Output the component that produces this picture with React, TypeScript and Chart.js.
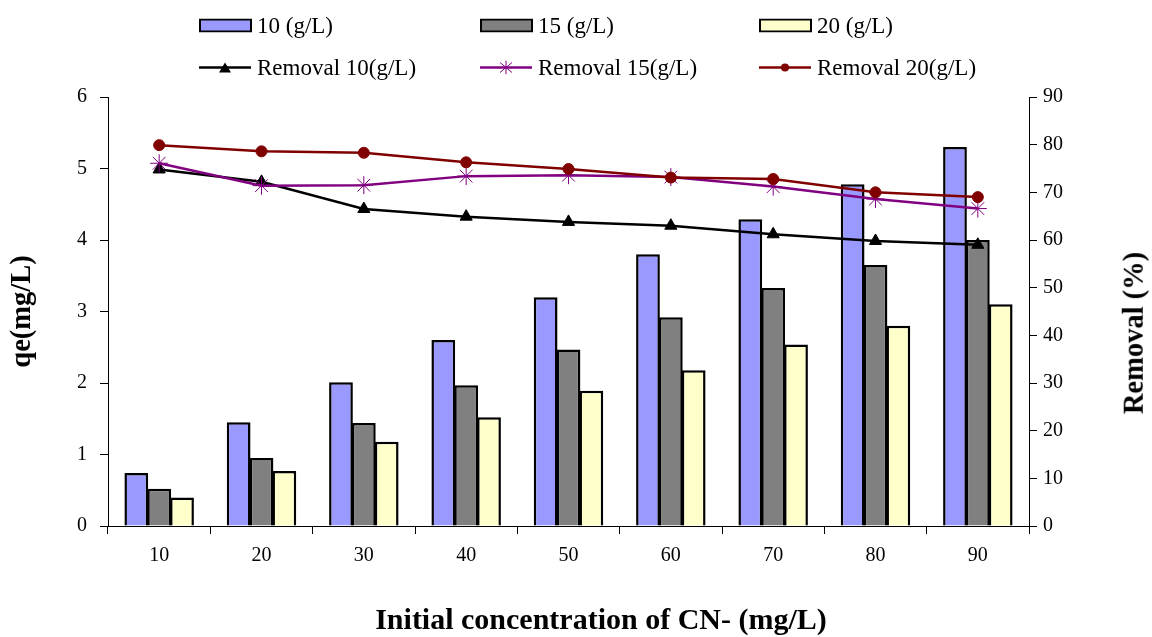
import React, { useEffect, useRef } from "react";
import { Chart, registerables } from "chart.js";

Chart.register(...registerables);

const categories = ["10", "20", "30", "40", "50", "60", "70", "80", "90"];
const qe10 = [0.74, 1.45, 2.01, 2.6, 3.2, 3.8, 4.29, 4.78, 5.3];
const qe15 = [0.52, 0.95, 1.44, 1.97, 2.47, 2.92, 3.33, 3.65, 4.0];
const qe20 = [0.4, 0.77, 1.18, 1.52, 1.89, 2.18, 2.54, 2.8, 3.1];
const removal10 = [74.8, 72.2, 66.5, 64.9, 63.8, 63.0, 61.2, 59.8, 59.0];
const removal15 = [76.1, 71.4, 71.5, 73.4, 73.6, 73.2, 71.2, 68.6, 66.6];
const removal20 = [79.9, 78.6, 78.3, 76.3, 74.9, 73.1, 72.8, 70.0, 69.0];
const leftTicks = [0, 6];
const rightTicks = [0, 90];

const FONT = "'Liberation Serif', 'Times New Roman', serif";

const BLUE = "#9999FF";
const GRAY = "#808080";
const YELLOW = "#FFFFCC";
const C_R10 = "#000000";
const C_R15 = "#800080";
const C_R20 = "#800000";

function Swatch({ fill }: { fill: string }) {
  return (
    <svg width={53} height={14} style={{ display: "block" }}>
      <rect x={1} y={1} width={51} height={12} fill={fill} stroke="#000" strokeWidth={2} />
    </svg>
  );
}

function LineMarker({ color, kind }: { color: string; kind: string }) {
  let marker: React.ReactNode = null;
  if (kind === "triangle") {
    marker = <polygon points="26,2 32,12 20,12" fill={color} />;
  } else if (kind === "star") {
    marker = (
      <g stroke={color} strokeWidth={1}>
        <line x1={26} y1={0} x2={26} y2={14} />
        <line x1={20} y1={2} x2={32} y2={12} />
        <line x1={32} y1={2} x2={20} y2={12} />
      </g>
    );
  } else {
    marker = <circle cx={26} cy={7} r={4} fill={color} />;
  }
  return (
    <svg width={53} height={14} style={{ display: "block" }}>
      <line x1={0} y1={7} x2={52} y2={7} stroke={color} strokeWidth={2.5} />
      {marker}
    </svg>
  );
}

const legendItems = [
  { label: "10 (g/L)", x: 199, y: 25, type: "bar", color: BLUE },
  { label: "15 (g/L)", x: 480, y: 25, type: "bar", color: GRAY },
  { label: "20 (g/L)", x: 759, y: 25, type: "bar", color: YELLOW },
  { label: "Removal 10(g/L)", x: 199, y: 67, type: "triangle", color: C_R10 },
  { label: "Removal 15(g/L)", x: 480, y: 67, type: "star", color: C_R15 },
  { label: "Removal 20(g/L)", x: 759, y: 67, type: "circle", color: C_R20 },
];

export default function App() {
  const ref = useRef<HTMLCanvasElement | null>(null);

  useEffect(() => {
    if (!ref.current) return;
    const tickFont = { family: FONT, size: 20 };
    const barCommon = {
      yAxisID: "y",
      borderColor: "#000",
      borderWidth: 2.5,
      categoryPercentage: 0.67,
      barPercentage: 1.04,
      order: 5,
    };
    const chart = new Chart(ref.current, {
      type: "bar",
      data: {
        labels: categories,
        datasets: [
          {
            type: "line",
            label: "Removal 20(g/L)",
            data: removal20,
            yAxisID: "y1",
            borderColor: C_R20,
            backgroundColor: C_R20,
            borderWidth: 2.5,
            pointStyle: "circle",
            pointRadius: 5.5,
            pointBorderWidth: 1,
            order: 0,
          },
          {
            type: "line",
            label: "Removal 15(g/L)",
            data: removal15,
            yAxisID: "y1",
            borderColor: C_R15,
            backgroundColor: C_R15,
            borderWidth: 2.5,
            pointStyle: "star",
            pointRadius: 9,
            pointBorderWidth: 1,
            order: 1,
          },
          {
            type: "line",
            label: "Removal 10(g/L)",
            data: removal10,
            yAxisID: "y1",
            borderColor: C_R10,
            backgroundColor: C_R10,
            borderWidth: 2.5,
            pointStyle: "triangle",
            pointRadius: 7,
            pointBorderWidth: 1,
            order: 2,
          },
          { ...barCommon, label: "10 (g/L)", data: qe10, backgroundColor: BLUE },
          { ...barCommon, label: "15 (g/L)", data: qe15, backgroundColor: GRAY },
          { ...barCommon, label: "20 (g/L)", data: qe20, backgroundColor: YELLOW },
        ] as any,
      },
      options: {
        responsive: false,
        maintainAspectRatio: false,
        animation: false,
        devicePixelRatio: 1,
        layout: { padding: { top: 97, left: 0, right: 0, bottom: 0 } },
        plugins: {
          legend: { display: false },
          tooltip: { enabled: false },
          title: { display: false },
        },
        scales: {
          x: {
            type: "category",
            offset: true,
            grid: {
              offset: true,
              drawOnChartArea: false,
              drawTicks: true,
              tickLength: 8,
              color: "#000",
              tickColor: "#000",
            },
            border: { display: true, color: "#000", width: 1 },
            ticks: { font: tickFont, color: "#000", padding: 10 },
            afterFit: (s: any) => {
              s.height = 111;
            },
          },
          y: {
            position: "left",
            min: leftTicks[0],
            max: leftTicks[1],
            ticks: { stepSize: 1, font: tickFont, color: "#000", padding: 13 },
            grid: {
              drawOnChartArea: false,
              tickLength: 8,
              color: "#000",
              tickColor: "#000",
            },
            border: { display: true, color: "#000", width: 1 },
            title: {
              display: true,
              text: "qe(mg/L)",
              color: "#000",
              font: { family: FONT, size: 28.5, weight: "bold" },
              padding: { top: 6, bottom: 0 },
            },
            afterFit: (s: any) => {
              s.width = 108;
            },
          },
          y1: {
            position: "right",
            min: rightTicks[0],
            max: rightTicks[1],
            ticks: { stepSize: 10, font: tickFont, color: "#000", padding: 6 },
            grid: {
              drawOnChartArea: false,
              tickLength: 8,
              color: "#000",
              tickColor: "#000",
            },
            border: { display: true, color: "#000", width: 1 },
            afterFit: (s: any) => {
              s.width = 123;
            },
          },
        },
      } as any,
    });
    return () => chart.destroy();
  }, []);

  return (
    <div
      style={{
        position: "absolute",
        left: 0,
        top: 0,
        width: 1152,
        height: 637,
        background: "#fff",
        fontFamily: FONT,
        color: "#000",
      }}
    >
      <canvas
        ref={ref}
        width={1152}
        height={637}
        style={{ position: "absolute", left: 0, top: 0, width: 1152, height: 637 }}
      />
      {legendItems.map((it) => (
        <div
          key={it.label}
          style={{
            position: "absolute",
            left: it.x,
            top: it.y,
            transform: "translateY(-50%)",
            display: "flex",
            alignItems: "center",
            whiteSpace: "nowrap",
            fontSize: 23,
            lineHeight: 1,
          }}
        >
          {it.type === "bar" ? (
            <Swatch fill={it.color} />
          ) : (
            <LineMarker color={it.color} kind={it.type} />
          )}
          <span style={{ marginLeft: 5 }}>{it.label}</span>
        </div>
      ))}
      <div
        style={{
          position: "absolute",
          left: 601,
          top: 619,
          transform: "translate(-50%, -50%)",
          whiteSpace: "nowrap",
          fontSize: 30,
          fontWeight: "bold",
          lineHeight: 1,
        }}
      >
        Initial concentration of CN- (mg/L)
      </div>
      <div
        style={{
          position: "absolute",
          left: 1134,
          top: 333,
          transform: "translate(-50%, -50%) rotate(-90deg)",
          whiteSpace: "nowrap",
          fontSize: 28.5,
          fontWeight: "bold",
          lineHeight: 1,
        }}
      >
        Removal (%)
      </div>
    </div>
  );
}
